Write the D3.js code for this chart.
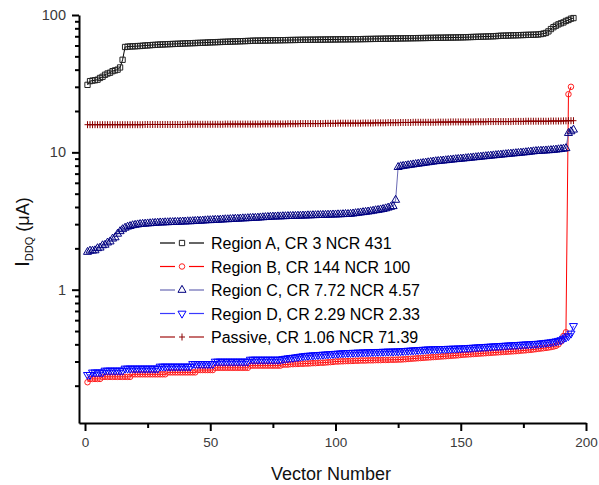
<!DOCTYPE html>
<html><head><meta charset="utf-8">
<script src="https://cdn.jsdelivr.net/npm/d3@7"></script>
<style>body{margin:0;background:#fff}svg{display:block}</style>
</head><body>
<svg id="c" width="599" height="485"></svg>
<script>
const xTicks = [0, 50, 100, 150, 200];
const xMinor = [25, 75, 125, 175];
const yTicks = [1, 10, 100];
const yMinor = [0.2,0.3,0.4,0.5,0.6,0.7,0.8,0.9,2,3,4,5,6,7,8,9,20,30,40,50,60,70,80,90];

const legendLabels = ["Region A, CR 3 NCR 431","Region B, CR 144 NCR 100","Region C, CR 7.72 NCR 4.57","Region D, CR 2.29 NCR 2.33","Passive, CR 1.06 NCR 71.39"];

const regionA = [
31,33,33.3,33.5,33.8,34.8,35.5,36.7,37.5,38,39,39.5,40,41.5,47.2,
58.5,58.8,59,59.1,59.2,59.4,59.5,59.7,60,60.1,60.3,60.5,60.6,60.8,61,
61,61.2,61.3,61.4,61.5,61.6,61.7,61.8,62,62.1,62.2,62.3,62.4,62.5,62.6,
62.7,62.8,62.9,63.1,63.2,63.3,63.4,63.5,63.6,63.7,63.8,63.9,64,64.1,64.2,
64.3,64.4,64.5,64.6,64.7,64.8,65,65,65.1,65.1,65.2,65.2,65.3,65.3,65.4,
65.4,65.5,65.5,65.6,65.6,65.7,65.7,65.8,65.8,65.9,65.9,66,66,66,66.1,
66.1,66.1,66.2,66.2,66.2,66.3,66.3,66.3,66.4,66.4,66.4,66.5,66.5,66.5,66.6,
66.6,66.6,66.7,66.7,66.7,66.8,66.8,66.9,66.9,67,67,67.1,67.1,67.2,67.2,
67.3,67.3,67.4,67.4,67.5,67.5,67.6,67.6,67.7,67.7,67.8,67.8,67.9,67.9,68,
68,68.1,68.1,68.2,68.2,68.3,68.3,68.4,68.4,68.5,68.5,68.6,68.6,68.7,68.7,
68.8,68.9,69,69.1,69.2,69.3,69.4,69.5,69.6,69.7,69.8,69.9,70,70.2,70.4,
70.6,70.7,70.8,70.9,71,71.1,71.2,71.3,71.4,71.5,71.6,71.7,71.8,71.9,72,
72.2,72.6,73.2,74,76,79,81.5,83.6,85.5,87,88.3,90.5,92,94,95];

const regionB = [
0.212,0.224,0.224,0.224,0.224,0.224,0.232,0.232,0.232,0.232,0.232,0.232,0.232,0.232,0.232,
0.232,0.232,0.232,0.242,0.242,0.242,0.242,0.242,0.242,0.242,0.242,0.242,0.242,0.242,0.242,
0.242,0.242,0.25,0.25,0.25,0.25,0.25,0.25,0.25,0.25,0.25,0.25,0.25,0.25,0.26,
0.26,0.26,0.26,0.26,0.26,0.26,0.27,0.27,0.27,0.27,0.27,0.27,0.27,0.27,0.27,
0.27,0.27,0.27,0.27,0.27,0.28,0.28,0.28,0.28,0.28,0.28,0.28,0.28,0.28,0.28,
0.28,0.28,0.28,0.285,0.285,0.285,0.287,0.287,0.288,0.288,0.289,0.289,0.29,0.29,0.291,
0.292,0.292,0.293,0.294,0.294,0.295,0.296,0.297,0.298,0.3,0.3,0.301,0.301,0.302,0.302,
0.303,0.303,0.304,0.304,0.305,0.305,0.305,0.306,0.306,0.306,0.307,0.307,0.307,0.308,0.308,
0.308,0.309,0.309,0.309,0.31,0.31,0.311,0.312,0.313,0.314,0.315,0.316,0.317,0.318,0.319,
0.32,0.321,0.322,0.323,0.324,0.325,0.326,0.327,0.328,0.329,0.33,0.331,0.332,0.333,0.335,
0.336,0.337,0.338,0.339,0.34,0.341,0.342,0.343,0.344,0.345,0.346,0.347,0.348,0.349,0.35,
0.351,0.352,0.353,0.354,0.355,0.356,0.357,0.358,0.36,0.361,0.362,0.364,0.365,0.367,0.369,
0.371,0.373,0.375,0.377,0.379,0.382,0.385,0.39,0.4,0.42,0.46,0.49,26.5,30];

const regionC = [
1.88,1.92,1.92,1.93,2.0,2.02,2.1,2.12,2.2,2.24,2.35,2.4,2.55,2.66,2.75,
2.82,2.87,2.9,2.94,2.96,2.98,3.0,3.01,3.02,3.03,3.04,3.05,3.06,3.07,3.08,
3.08,3.09,3.09,3.1,3.1,3.11,3.11,3.12,3.13,3.13,3.14,3.14,3.15,3.16,3.17,
3.17,3.18,3.19,3.2,3.2,3.21,3.22,3.22,3.23,3.24,3.25,3.25,3.26,3.27,3.28,
3.28,3.29,3.3,3.3,3.31,3.32,3.33,3.33,3.34,3.35,3.36,3.37,3.38,3.39,3.4,
3.4,3.41,3.41,3.42,3.42,3.43,3.43,3.44,3.44,3.45,3.45,3.46,3.46,3.47,3.47,
3.48,3.48,3.49,3.49,3.5,3.5,3.51,3.51,3.52,3.52,3.53,3.53,3.54,3.55,3.55,
3.56,3.58,3.6,3.62,3.64,3.66,3.68,3.7,3.72,3.75,3.78,3.8,3.83,3.86,3.9,
3.95,4.0,4.05,4.5,7.8,7.9,7.95,8.0,8.05,8.1,8.15,8.2,8.25,8.3,8.35,
8.4,8.45,8.5,8.55,8.6,8.63,8.67,8.7,8.74,8.78,8.82,8.86,8.9,8.93,8.97,
9.0,9.04,9.08,9.12,9.16,9.2,9.24,9.28,9.32,9.36,9.4,9.44,9.48,9.52,9.56,
9.6,9.64,9.68,9.72,9.76,9.8,9.84,9.88,9.92,9.96,10.0,10.05,10.1,10.15,10.2,
10.22,10.25,10.28,10.3,10.33,10.36,10.4,10.45,10.5,10.55,10.6,10.7,13.8,14.2,14.6];

const regionD = [
0.24,0.24,0.25,0.25,0.25,0.25,0.25,0.258,0.258,0.258,0.258,0.258,0.258,0.258,0.258,
0.267,0.267,0.267,0.267,0.267,0.267,0.267,0.267,0.267,0.267,0.267,0.267,0.267,0.267,0.276,
0.276,0.276,0.276,0.276,0.276,0.276,0.276,0.276,0.276,0.276,0.276,0.276,0.288,0.288,0.288,
0.288,0.288,0.288,0.288,0.288,0.288,0.3,0.3,0.3,0.3,0.3,0.3,0.3,0.3,0.3,
0.3,0.3,0.3,0.3,0.3,0.31,0.31,0.31,0.31,0.31,0.31,0.31,0.31,0.31,0.31,
0.31,0.31,0.31,0.313,0.315,0.317,0.319,0.32,0.322,0.324,0.326,0.328,0.33,0.331,0.332,
0.333,0.334,0.335,0.336,0.337,0.338,0.339,0.34,0.341,0.342,0.343,0.344,0.345,0.346,0.347,
0.347,0.348,0.348,0.349,0.349,0.35,0.35,0.351,0.351,0.352,0.352,0.353,0.353,0.354,0.354,
0.355,0.355,0.355,0.356,0.356,0.357,0.358,0.359,0.36,0.361,0.362,0.363,0.364,0.365,0.366,
0.367,0.368,0.368,0.369,0.369,0.37,0.37,0.371,0.371,0.372,0.372,0.373,0.373,0.374,0.374,
0.375,0.376,0.377,0.378,0.379,0.38,0.381,0.382,0.383,0.384,0.385,0.386,0.387,0.388,0.389,
0.39,0.391,0.392,0.393,0.394,0.395,0.396,0.397,0.398,0.399,0.4,0.401,0.402,0.403,0.404,
0.405,0.407,0.409,0.411,0.413,0.415,0.418,0.421,0.425,0.43,0.44,0.45,0.46,0.48,0.545];

const passive = [
15.9,15.9,15.9,15.9,15.9,15.9,15.9,15.9,15.9,15.9,15.9,15.9,15.9,15.9,15.9,
15.9,15.9,15.9,15.9,15.9,15.9,15.9,15.9,15.95,15.95,15.95,15.95,15.95,15.95,15.95,
15.95,15.95,15.95,15.95,15.95,15.95,15.95,15.95,15.95,15.95,16,16,16,16,16,
16,16,16,16,16,16,16,16,16,16,16.05,16.05,16.05,16.05,16.05,
16.05,16.05,16.05,16.05,16.05,16.05,16.05,16.05,16.05,16.05,16.1,16.1,16.1,16.1,16.1,
16.1,16.1,16.1,16.1,16.1,16.15,16.15,16.15,16.15,16.15,16.2,16.2,16.2,16.2,16.2,
16.2,16.2,16.2,16.2,16.2,16.25,16.25,16.25,16.25,16.25,16.3,16.3,16.3,16.3,16.3,
16.3,16.3,16.3,16.3,16.3,16.35,16.35,16.35,16.35,16.35,16.4,16.4,16.4,16.4,16.4,
16.45,16.45,16.45,16.45,16.45,16.5,16.5,16.5,16.5,16.5,16.55,16.55,16.55,16.55,16.55,
16.55,16.55,16.55,16.55,16.55,16.6,16.6,16.6,16.6,16.6,16.65,16.65,16.65,16.65,16.65,
16.65,16.65,16.65,16.65,16.65,16.7,16.7,16.7,16.7,16.7,16.75,16.75,16.75,16.75,16.75,
16.75,16.75,16.75,16.75,16.75,16.8,16.8,16.8,16.8,16.8,16.85,16.85,16.85,16.85,16.85,
16.85,16.85,16.85,16.85,16.85,16.9,16.9,16.9,16.9,16.9,16.95,16.95,17,17,17];

const svg = d3.select("#c");
const x = d3.scaleLinear().domain([-2.4, 200]).range([79, 586]);
const y = d3.scaleLog().domain([0.107, 100]).range([423, 15]);
const font = "Arial, 'Liberation Sans', sans-serif";

const series = [
  {vals: regionA, line: "#000000", mark: "#222222", sym: d3.symbolSquare, size: 28, rot: 0},
  {vals: regionB, line: "#ff0000", mark: "#ff2020", sym: d3.symbolCircle, size: 24, rot: 0},
  {vals: regionC, line: "#6a6ab4", mark: "#000080", sym: d3.symbolTriangle, size: 28, rot: 0},
  {vals: regionD, line: "#3a3aff", mark: "#0000ff", sym: d3.symbolTriangle, size: 28, rot: 180},
  {vals: passive, line: "#a01010", mark: "#8b0000", sym: d3.symbolCross, size: 0, rot: 0}
];

// axes
const gx = svg.append("g").attr("transform", "translate(0,423)")
  .call(d3.axisBottom(x).tickValues(xTicks).tickSize(8).tickSizeOuter(0).tickPadding(6));
const gxm = svg.append("g").attr("transform", "translate(0,423)")
  .call(d3.axisBottom(x).tickValues(xMinor).tickSize(5).tickFormat("").tickSizeOuter(0));
gxm.select(".domain").remove();
const gy = svg.append("g").attr("transform", "translate(79,0)")
  .call(d3.axisLeft(y).tickValues(yTicks).tickSize(7).tickSizeOuter(0).tickPadding(6).tickFormat(d3.format("d")));
const gym = svg.append("g").attr("transform", "translate(79,0)")
  .call(d3.axisLeft(y).tickValues(yMinor).tickSize(4).tickFormat("").tickSizeOuter(0));
gym.select(".domain").remove();
[gx, gxm, gy, gym].forEach(g => {
  g.selectAll("path,line").attr("stroke", "#000").attr("stroke-width", 2);
  g.selectAll("text").attr("font-family", font).attr("fill", "#3a3a3a");
});
gx.selectAll("text").attr("font-size", 13.5);
gy.selectAll("text").attr("font-size", 14.5);

// axis titles
svg.append("text").attr("x", 331).attr("y", 480).attr("text-anchor", "middle")
  .attr("font-family", font).attr("font-size", 18).attr("fill", "#111").text("Vector Number");
const yt = svg.append("text").attr("transform", "translate(29,267) rotate(-90)")
  .attr("font-family", font).attr("fill", "#111");
yt.append("tspan").attr("font-size", 21).text("I");
yt.append("tspan").attr("font-size", 11).attr("dy", 4).text("DDQ");
yt.append("tspan").attr("font-size", 18).attr("dy", -4).text(" (\u03bcA)");

// data
const plot = svg.append("g");
function marker(g, s, px, py) {
  if (s.sym === d3.symbolCross) {
    g.append("path").attr("d", `M${px-3},${py}H${px+3}M${px},${py-3.5}V${py+3.5}`)
      .attr("stroke", s.mark).attr("stroke-width", 1).attr("fill", "none");
  } else {
    g.append("path").attr("d", d3.symbol(s.sym, s.size)())
      .attr("transform", `translate(${px},${py}) rotate(${s.rot})`)
      .attr("fill", "none").attr("stroke", s.mark).attr("stroke-width", 1);
  }
}
series.forEach(s => {
  const pts = s.vals.map((v, i) => [i + 1, v]);
  plot.append("path").datum(pts)
    .attr("d", d3.line().x(d => x(d[0])).y(d => y(d[1])))
    .attr("fill", "none").attr("stroke", s.line).attr("stroke-width", 1);
  const mg = plot.append("g");
  pts.forEach(d => marker(mg, s, x(d[0]), y(d[1])));
});

// legend
const lg = svg.append("g");
series.forEach((s, i) => {
  const ly = 243 + i * 23.5;
  lg.append("line").attr("x1", 160).attr("x2", 175).attr("y1", ly).attr("y2", ly).attr("stroke", s.line).attr("stroke-width", 1.2);
  lg.append("line").attr("x1", 189).attr("x2", 204).attr("y1", ly).attr("y2", ly).attr("stroke", s.line).attr("stroke-width", 1.2);
  marker(lg, s, 182, ly);
  lg.append("text").attr("x", 211).attr("y", ly + 6).attr("font-family", font).attr("font-size", 16)
    .attr("fill", "#000").text(legendLabels[i]);
});
</script>
</body></html>
